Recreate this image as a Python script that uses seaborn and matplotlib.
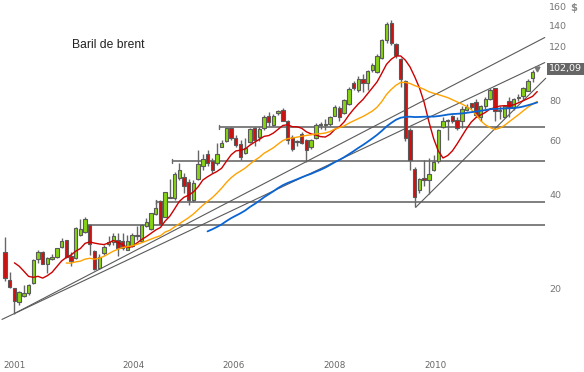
import numpy as np
import pandas as pd
import matplotlib
matplotlib.use("Agg")
import matplotlib.pyplot as plt
import seaborn as sns

# ---------------- data (monthly Brent candles, Sep 2001 -> Feb 2011) ----------------
opens = [26.4, 21.5, 20.25, 18.3, 19.1, 19.5, 21.0, 25.1, 26.5, 24.2,
         25.2, 25.5, 27.5, 28.9, 25.7, 25.4, 30.0, 30.7, 32.3, 26.7,
         23.45, 26.35, 28.1, 28.4, 28.9, 28.6, 26.9, 27.7, 29.7, 28.8,
         32.0, 31.4, 35.1, 38.5, 34.3, 39.4, 39.5, 45.8, 46.0, 44.5,
         38.8, 45.3, 49.8, 54.7, 51.7, 50.9, 57.6, 59.9, 65.9, 61.5,
         58.7, 54.9, 59.6, 65.9, 61.6, 66.1, 72.2, 67.7, 74.0, 75.4,
         69.4, 61.6, 59.4, 63.2, 60.4, 57.2, 61.5, 67.4, 67.3, 67.8,
         72.4, 76.5, 73.7, 79.0, 91.9, 87.7, 95.0, 92.3, 101.3, 99.6,
         110.8, 126.4, 143.0, 122.7, 109.6, 93.3, 65.1, 48.7, 41.8, 45.6,
         45.0, 48.5, 51.7, 66.4, 69.4, 72.3, 70.1, 69.4, 75.4, 79.2,
         80.2, 71.7, 77.5, 81.5, 88.4, 74.6, 71.5, 80.5, 76.5, 82.2,
         83.6, 87.0, 95.3, 101.5]
highs = [29.5, 22.8, 20.3, 19.85, 20.75, 20.85, 25.1, 26.9, 26.6, 25.5,
         26.0, 27.3, 29.4, 29.0, 26.5, 31.9, 33.8, 34.3, 32.5, 26.9,
         26.0, 27.8, 29.8, 30.4, 30.4, 30.4, 29.9, 30.4, 32.0, 32.5,
         34.0, 35.3, 38.7, 38.7, 41.3, 45.3, 47.7, 51.2, 47.5, 45.3,
         45.0, 56.2, 54.5, 56.2, 52.9, 59.0, 60.4, 66.2, 66.5, 62.5,
         60.4, 61.5, 66.0, 66.5, 66.5, 72.5, 74.5, 73.0, 75.5, 76.3,
         70.0, 62.5, 60.5, 64.0, 61.0, 61.0, 68.7, 68.8, 70.8, 72.2,
         78.0, 77.5, 81.8, 89.5, 93.3, 96.6, 98.5, 101.5, 107.0, 114.0,
         127.5, 144.2, 146.4, 124.0, 111.0, 94.0, 66.0, 49.6, 45.6, 52.0,
         53.0, 54.0, 65.5, 71.6, 70.5, 72.6, 71.6, 77.7, 78.7, 79.5,
         81.6, 78.5, 83.0, 89.0, 89.0, 77.5, 78.5, 83.0, 82.5, 85.0,
         89.5, 94.5, 101.0, 102.8]
lows = [21.4, 20.3, 16.8, 17.9, 19.0, 19.3, 20.9, 24.4, 24.2, 22.6,
        24.95, 25.4, 27.2, 25.4, 23.8, 25.2, 29.8, 30.5, 25.9, 23.2,
        23.3, 25.95, 27.7, 27.9, 25.75, 26.9, 26.9, 27.5, 28.9, 28.5,
        31.9, 31.1, 34.8, 32.3, 34.2, 39.3, 38.8, 45.0, 40.8, 37.4,
        38.3, 45.0, 48.5, 49.8, 47.4, 50.4, 57.3, 59.5, 60.5, 57.5,
        52.2, 54.5, 59.0, 58.0, 60.0, 65.0, 67.0, 67.0, 72.5, 69.4,
        58.5, 55.8, 57.7, 58.8, 51.5, 56.5, 60.9, 65.5, 64.9, 67.2,
        72.0, 69.4, 73.0, 78.5, 87.4, 86.0, 86.0, 87.4, 99.5, 99.0,
        109.5, 124.0, 122.0, 111.0, 89.5, 60.0, 48.5, 36.8, 40.8, 43.0,
        40.5, 48.0, 51.0, 65.9, 60.4, 68.5, 65.0, 65.9, 75.0, 76.0,
        71.6, 69.5, 76.0, 81.0, 69.4, 70.5, 71.0, 71.5, 75.5, 80.5,
        81.0, 86.5, 93.0, 101.0]
closes = [21.8, 20.5, 18.5, 19.7, 19.5, 20.75, 24.95, 26.5, 24.3, 25.4,
          25.55, 27.2, 28.7, 25.5, 24.85, 31.6, 31.3, 33.8, 28.1, 23.3,
          25.6, 27.55, 28.5, 29.7, 27.3, 27.3, 28.6, 30.0, 30.0, 32.2,
          33.1, 35.2, 36.5, 32.5, 41.1, 39.7, 47.0, 48.5, 43.0, 38.8,
          43.9, 50.6, 52.4, 50.9, 48.5, 54.7, 59.1, 65.9, 61.5, 58.3,
          53.2, 57.1, 65.4, 60.4, 65.5, 71.6, 69.1, 72.2, 74.6, 69.7,
          60.5, 56.5, 60.0, 59.0, 56.2, 60.3, 67.5, 68.1, 67.9, 71.7,
          76.9, 71.8, 81.2, 88.1, 89.0, 94.6, 92.0, 100.6, 105.3, 112.7,
          126.4, 142.0, 124.0, 113.5, 94.6, 61.2, 52.3, 39.6, 45.2, 45.0,
          47.1, 51.5, 65.1, 69.4, 70.1, 69.4, 66.0, 75.8, 76.9, 76.9,
          72.6, 77.5, 81.7, 87.5, 74.7, 75.2, 77.5, 76.8, 81.8, 83.0,
          88.4, 93.2, 99.6, 102.09]
# closes before the visible window (Mar-Aug 2001), only used by the moving averages
prior_closes = [25.0, 27.3, 28.5, 26.4, 25.0, 26.9]
ma_windows = [9, 20, 50]
ma_colors = ["#cc0000", "#ffa200", "#0a64d2"]
ma_widths = [1.0, 1.0, 1.3]

# support / resistance annotations (candle index, price)
trend_x0 = [2.12, -0.64, 87.2]
trend_y0 = [16.85, 16.1, 36.8]
trend_x1 = [114.6, 114.6, 114.8]
trend_y1 = [128.7, 107.0, 95.3]
level_values = [66.5, 51.8, 38.3, 32.3]
level_starts = [45.5, 35.5, 32.0, 16.8]
level_end = 114.6

axis_values = [160, 140, 120, 80, 60, 40, 20]
axis_texts = ["160", "140", "120", "80", "60", "40", "20"]
last_label = "102,09"
year_labels = ["2001", "2004", "2006", "2008", "2010"]
year_pos = [2.1, 27.3, 48.6, 70.0, 91.3]
title = "Baril de brent"

# ---------------- figure ----------------
sns.set_theme(style="white")
plt.rcParams["font.family"] = ["DejaVu Sans"]

fig = plt.figure(figsize=(5.84, 3.72), dpi=100)
ax = fig.add_axes([0, 0, 1, 1])
ax.set_yscale("log")
xmin = -5 / 4.71
ax.set_xlim(xmin, xmin + 584 / 4.71)
ax.set_ylim(20 * 2 ** (-82 / 94), 20 * 2 ** (290 / 94))
ax.set_axis_off()

n = len(closes)
idx = np.arange(n)

# horizontal levels
for v, s in zip(level_values, level_starts):
    ax.plot([s, level_end], [v, v], color="#6a6a6a", lw=1.2, zorder=1, solid_capstyle="butt")
    ax.plot([s, s], [v * 0.985, v * 1.015], color="#6a6a6a", lw=1.0, zorder=1)

# trend lines
for x0, y0, x1, y1 in zip(trend_x0, trend_y0, trend_x1, trend_y1):
    ax.plot([x0, x1], [y0, y1], color="#5a5a5a", lw=0.8, zorder=1)

# candles
o = np.array(opens); h = np.array(highs); l = np.array(lows); c = np.array(closes)
ax.vlines(idx, l, h, color="#666666", lw=1.0, zorder=2)
up = c >= o
body_bottom = np.minimum(o, c)
body_h = np.maximum(np.abs(c - o), body_bottom * 0.006)
colors = np.where(up, "#86d40e", "#d01010")
ax.bar(idx[:-1], body_h[:-1], bottom=body_bottom[:-1], width=0.72,
       color=colors[:-1], edgecolor="#5a5a5a", linewidth=0.8, zorder=3)
# latest (running) candle shown as a small gray marker
ax.plot([idx[-1]], [closes[-1]], marker="v", color="#777777", ms=3.5, zorder=3)

# moving averages
all_closes = pd.Series(prior_closes + closes)
ma_df = pd.DataFrame({"idx": np.arange(-len(prior_closes), n)})
for w, col, lw in zip(ma_windows, ma_colors, ma_widths):
    ma_df[f"ma{w}"] = all_closes.rolling(w).mean().values
    sub = ma_df[(ma_df["idx"] >= 0) & ma_df[f"ma{w}"].notna()]
    sns.lineplot(data=sub, x="idx", y=f"ma{w}", color=col, lw=lw, ax=ax, zorder=4)
ax.set_axis_off()

# right-hand price scale
xlab = (549 - 5) / 4.71
for v, t in zip(axis_values, axis_texts):
    ax.text(xlab, v, t, ha="left", va="center", fontsize=6.8, color="#777777")
ax.text(xlab + 4.5, 160, "$", ha="left", va="center", fontsize=7.2, color="#888888", fontweight="bold")
ax.text(xlab, closes[-1], last_label, ha="left", va="center", fontsize=6.8, color="white",
        bbox=dict(boxstyle="square,pad=0.18", fc="#666666", ec="none"))

# years
for p, t in zip(year_pos, year_labels):
    ax.text(p, 20 * 2 ** ((290 - 366) / 94), t, ha="center", va="center", fontsize=6.3, color="#666666")

fig.text(72 / 584, 1 - 45 / 372, title, ha="left", va="center", fontsize=8.7,
         color="#222222", family=["Liberation Sans", "DejaVu Sans"])

fig.savefig("out.png", dpi=100)
